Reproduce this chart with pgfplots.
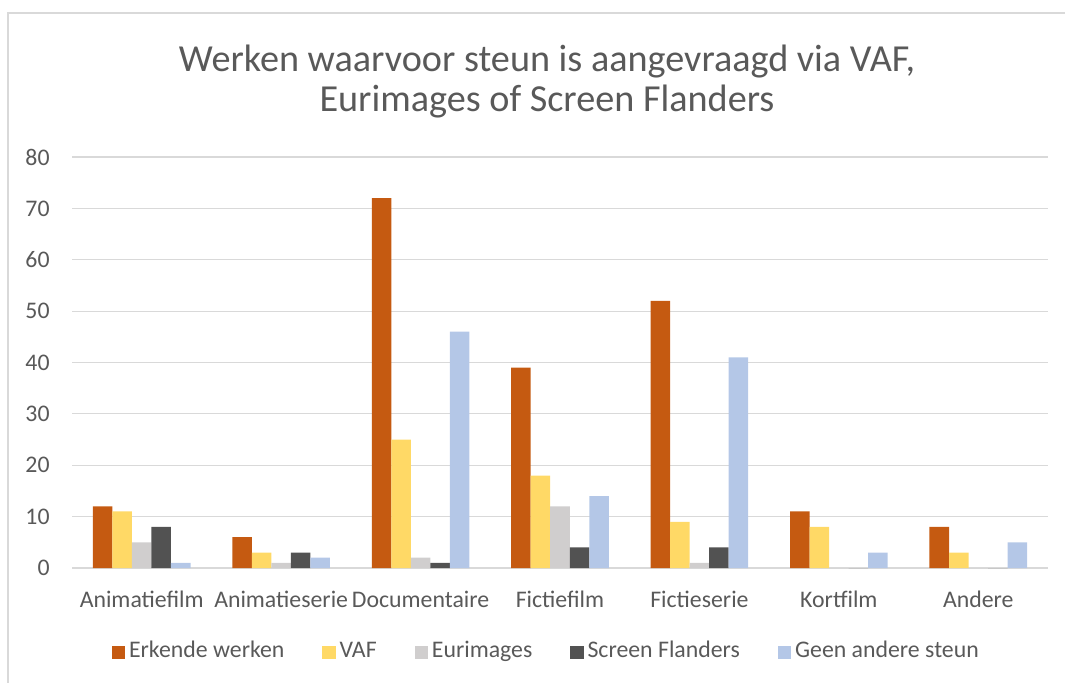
\documentclass[border=0pt]{standalone}
\usepackage{pgfplots}
\pgfplotsset{compat=1.18}
\usepackage{fontspec}
\setmainfont{Carlito}
\definecolor{cErk}{HTML}{C55A11}
\definecolor{cVAF}{HTML}{FFD966}
\definecolor{cEur}{HTML}{D0CECE}
\definecolor{cScr}{HTML}{525252}
\definecolor{cGeen}{HTML}{B4C7E7}
\definecolor{txt}{HTML}{595959}
\definecolor{grd}{HTML}{D9D9D9}
\begin{document}
\begin{tikzpicture}
\useasboundingbox (0pt,0pt) rectangle (532.5pt,341pt);
\draw[grd, line width=0.6pt] (4pt,-5pt) -- (4pt,334.5pt) -- (537pt,334.5pt);
\node[align=center, text=txt, font=\fontsize{19.1}{20}\selectfont] at (273.5pt,300pt) {Werken waarvoor steun is aangevraagd via VAF,\\Eurimages of Screen Flanders};
\begin{axis}[
  at={(36pt,57pt)}, anchor=south west,
  scale only axis, width=488pt, height=205.5pt,
  ymin=0, ymax=80, ytick={0,10,...,80},
  xmin=-0.5, xmax=6.5, xtick={0,...,6},
  xticklabels={Animatiefilm,Animatieserie,Documentaire,Fictiefilm,Fictieserie,Kortfilm,Andere},
  ybar=0pt, bar width=0.14,
  axis x line*=bottom, axis y line*=left,
  x axis line style={grd, line width=0.8pt},
  y axis line style={draw=none},
  major tick length=0pt,
  ymajorgrids, grid style={grd, line width=0.6pt},
  tick label style={text=txt, font=\fontsize{11.9}{13}\selectfont},
  /pgf/number format/assume math mode=true,
  yticklabel style={anchor=east, inner sep=0pt, xshift=-11pt},
  xticklabel style={anchor=north, inner sep=0pt, yshift=-11.5pt},
  legend style={draw=none, fill=none, at={(0.487,-0.205)}, anchor=center,
    legend columns=5, text=txt, font=\fontsize{11.9}{13}\selectfont,
    nodes={text height=0.7em, text depth=0.2em},
    /tikz/every even column/.append style={column sep=17pt}},
  legend image code/.code={\fill[#1] (0pt,-3.3pt) rectangle (6.6pt,3.3pt);},
  legend cell align=left,
]
\addplot[fill=cErk, draw=none] coordinates {(0,12) (1,6) (2,72) (3,39) (4,52) (5,11) (6,8)};
\addplot[fill=cVAF, draw=none] coordinates {(0,11) (1,3) (2,25) (3,18) (4,9) (5,8) (6,3)};
\addplot[fill=cEur, draw=none] coordinates {(0,5) (1,1) (2,2) (3,12) (4,1) (5,0) (6,0)};
\addplot[fill=cScr, draw=none] coordinates {(0,8) (1,3) (2,1) (3,4) (4,4) (5,0) (6,0)};
\addplot[fill=cGeen, draw=none] coordinates {(0,1) (1,2) (2,46) (3,14) (4,41) (5,3) (6,5)};
\legend{Erkende werken, VAF, Eurimages, Screen Flanders, Geen andere steun}
\end{axis}
\end{tikzpicture}
\end{document}
